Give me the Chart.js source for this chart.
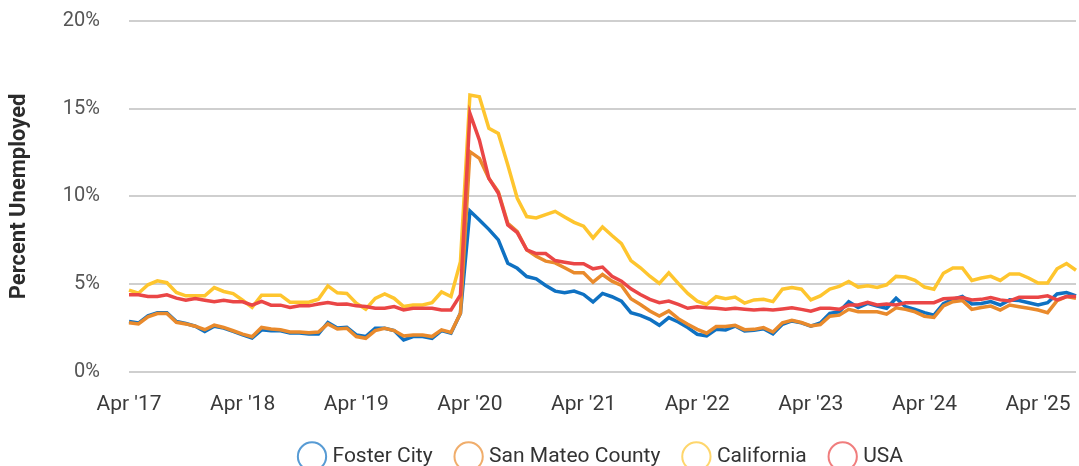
<!DOCTYPE html>
<html>
<head>
<meta charset="utf-8">
<script src="https://cdn.jsdelivr.net/npm/chart.js@4.4.0/dist/chart.umd.min.js"></script>
<style>
  html, body { margin: 0; padding: 0; overflow: hidden; background: #fff; }
  #wrap { position: relative; width: 1079px; height: 477px; }
</style>
</head>
<body>
<div id="wrap"><canvas id="chart"></canvas></div>
<script>
// monthly, Apr 2017 .. Aug 2025
const monthNames = ['Jan', 'Feb', 'Mar', 'Apr', 'May', 'Jun', 'Jul', 'Aug', 'Sep', 'Oct', 'Nov', 'Dec'];
const startYear = 2017, startMonth = 3, monthCount = 101;

const fosterCity = [
  2.87, 2.78, 3.19, 3.36, 3.36, 2.87, 2.75, 2.60, 2.30, 2.60, 2.49, 2.30,
  2.11, 1.92, 2.39, 2.34, 2.34, 2.21, 2.21, 2.15, 2.15, 2.81, 2.50, 2.54,
  2.10, 2.01, 2.48, 2.48, 2.35, 1.82, 2.01, 2.01, 1.91, 2.35, 2.20, 3.34,
  9.17, 8.66, 8.12, 7.52, 6.19, 5.90, 5.43, 5.30, 4.92, 4.60, 4.51, 4.60,
  4.41, 3.98, 4.47, 4.28, 4.03, 3.37, 3.22, 2.99, 2.65, 3.09, 2.84, 2.52,
  2.14, 2.05, 2.42, 2.39, 2.61, 2.33, 2.37, 2.46, 2.17, 2.71, 2.90, 2.79,
  2.60, 2.79, 3.33, 3.42, 4.00, 3.67, 3.90, 3.75, 3.62, 4.19, 3.71, 3.56,
  3.37, 3.23, 3.88, 4.13, 4.29, 3.87, 3.90, 4.00, 3.81, 4.10, 4.06, 3.94,
  3.81, 3.94, 4.44, 4.52, 4.33
];
const sanMateo = [
  2.80, 2.73, 3.13, 3.32, 3.32, 2.82, 2.73, 2.60, 2.40, 2.66, 2.53, 2.34,
  2.15, 2.00, 2.53, 2.44, 2.40, 2.27, 2.27, 2.23, 2.27, 2.73, 2.44, 2.48,
  2.01, 1.91, 2.35, 2.48, 2.35, 2.04, 2.10, 2.10, 2.01, 2.39, 2.24, 3.34,
  12.55, 12.17, 11.03, 10.27, 8.47, 7.99, 6.95, 6.59, 6.31, 6.21, 5.93, 5.64,
  5.64, 5.11, 5.55, 5.17, 4.92, 4.17, 3.84, 3.47, 3.18, 3.47, 3.03, 2.71,
  2.42, 2.20, 2.58, 2.58, 2.65, 2.40, 2.42, 2.52, 2.27, 2.79, 2.94, 2.81,
  2.62, 2.69, 3.17, 3.23, 3.56, 3.42, 3.42, 3.42, 3.29, 3.65, 3.56, 3.42,
  3.17, 3.10, 3.76, 4.00, 4.06, 3.56, 3.67, 3.75, 3.52, 3.81, 3.71, 3.62,
  3.52, 3.37, 4.06, 4.29, 4.19
];
const california = [
  4.66, 4.48, 4.96, 5.19, 5.08, 4.52, 4.33, 4.33, 4.33, 4.80, 4.58, 4.46,
  4.08, 3.67, 4.37, 4.37, 4.37, 3.97, 3.97, 3.97, 4.14, 4.90, 4.50, 4.47,
  3.91, 3.57, 4.19, 4.44, 4.19, 3.72, 3.81, 3.81, 3.94, 4.55, 4.29, 6.28,
  15.78, 15.68, 13.88, 13.59, 11.79, 9.89, 8.85, 8.77, 8.96, 9.15, 8.83, 8.52,
  8.30, 7.63, 8.26, 7.77, 7.31, 6.34, 5.93, 5.45, 5.04, 5.64, 5.04, 4.47,
  4.03, 3.84, 4.28, 4.17, 4.26, 3.92, 4.10, 4.13, 4.00, 4.71, 4.81, 4.71,
  4.10, 4.33, 4.71, 4.87, 5.15, 4.83, 4.90, 4.81, 4.96, 5.44, 5.40, 5.21,
  4.83, 4.71, 5.62, 5.92, 5.92, 5.21, 5.35, 5.44, 5.21, 5.58, 5.58, 5.35,
  5.06, 5.06, 5.87, 6.17, 5.79
];
const usa = [
  4.39, 4.39, 4.29, 4.29, 4.39, 4.20, 4.08, 4.18, 4.08, 3.99, 4.08, 3.99,
  3.99, 3.80, 4.01, 3.80, 3.80, 3.67, 3.76, 3.76, 3.86, 3.95, 3.85, 3.87,
  3.76, 3.72, 3.62, 3.62, 3.72, 3.53, 3.62, 3.62, 3.62, 3.53, 3.53, 4.38,
  14.73, 13.21, 11.03, 10.18, 8.37, 7.93, 6.95, 6.74, 6.74, 6.34, 6.25, 6.16,
  6.16, 5.87, 5.97, 5.45, 5.17, 4.73, 4.41, 4.13, 3.94, 4.03, 3.84, 3.62,
  3.71, 3.65, 3.62, 3.56, 3.62, 3.57, 3.52, 3.56, 3.52, 3.58, 3.65, 3.56,
  3.46, 3.62, 3.62, 3.56, 3.81, 3.81, 3.96, 3.81, 3.87, 3.81, 3.94, 3.94,
  3.94, 3.94, 4.16, 4.19, 4.23, 4.10, 4.13, 4.23, 4.10, 4.04, 4.25, 4.25,
  4.25, 4.33, 4.10, 4.29, 4.29
];

const seriesNames = ['Foster City', 'San Mateo County', 'California', 'USA'];
const seriesColors = ['#0f71c2', '#e98a2c', '#fec52e', '#ea4646'];
const legendColors = ['rgba(15,113,194,0.7)', 'rgba(233,138,44,0.7)', 'rgba(254,197,46,0.7)', 'rgba(234,70,70,0.7)'];
const yTicks = [0, 5, 10, 15, 20];

const labels = [];
for (let i = 0; i < monthCount; i++) {
  const m = (startMonth + i) % 12;
  const y = startYear + Math.floor((startMonth + i) / 12);
  labels.push(monthNames[m] + " '" + String(y).slice(2));
}

const font = 'Roboto';
const allSeries = [fosterCity, sanMateo, california, usa];
const clear = 'rgba(0,0,0,0)';

const chartData = {
  labels: labels,
  datasets: allSeries.map((values, i) => ({
    label: seriesNames[i],
    data: values,
    borderColor: seriesColors[i],
    backgroundColor: '#ffffff',
    borderWidth: 3.5,
    pointRadius: 0,
    tension: 0,
    order: allSeries.length - i
  }))
};

const chartOptions = {
  responsive: true,
  maintainAspectRatio: false,
  animation: false,
  layout: {
    padding: { top: 21, right: 1, left: 0, bottom: 0 }
  },
  scales: {
    x: {
      grid: { display: true, drawOnChartArea: false, drawTicks: true, tickLength: 17, color: clear, tickColor: clear },
      border: { display: false },
      ticks: {
        autoSkip: false,
        maxRotation: 0,
        padding: 3,
        color: '#3a3a3a',
        font: { family: font, size: 21 },
        callback: (val, idx) => (idx % 12 === 0 ? labels[idx] : '')
      }
    },
    y: {
      min: 0,
      max: 20,
      afterBuildTicks: (scale) => {
        scale.ticks = yTicks.map(v => ({ value: v }));
      },
      afterFit: (scale) => {
        scale.width = 129;
      },
      grid: { color: '#cfcfcf', lineWidth: 2, drawTicks: true, tickLength: 26, tickColor: clear },
      border: { display: false },
      ticks: {
        padding: 3,
        color: '#555',
        font: { family: font, size: 20 },
        callback: (v) => v + '%'
      },
      title: {
        display: true,
        text: 'Percent Unemployed',
        color: '#2b2b2b',
        padding: { top: 6, bottom: 0 },
        font: { family: font, size: 22, weight: 'bold' }
      }
    }
  },
  plugins: {
    tooltip: { enabled: false },
    legend: {
      display: true,
      position: 'bottom',
      fullSize: false,
      labels: {
        usePointStyle: true,
        pointStyle: 'circle',
        boxWidth: 20,
        boxHeight: 20,
        padding: 26,
        color: '#333',
        font: { family: font, size: 21 },
        sort: (a, b) => a.datasetIndex - b.datasetIndex,
        generateLabels: (chart) => {
          const items = Chart.defaults.plugins.legend.labels.generateLabels(chart);
          items.forEach(item => {
            item.fillStyle = '#ffffff';
            item.strokeStyle = legendColors[item.datasetIndex];
            item.lineWidth = 2;
          });
          return items;
        }
      }
    }
  }
};

new Chart(document.getElementById('chart'), {
  type: 'line',
  data: chartData,
  options: chartOptions
});
</script>
</body>
</html>
